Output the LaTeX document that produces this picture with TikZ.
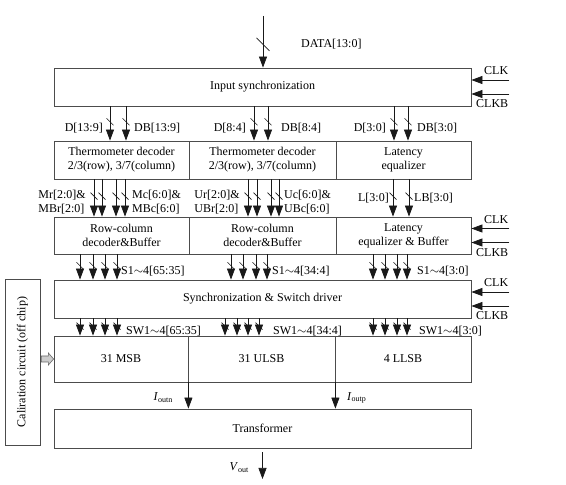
\documentclass[tikz,border=0pt]{standalone}
\usepackage{fontspec}
\setmainfont{Liberation Serif}
\usetikzlibrary{arrows.meta,decorations.markings}

\tikzset{
  blk/.style={draw=black!70, line width=0.8pt, minimum height=38pt, inner sep=1pt,
    align=center, font=\fontsize{12}{14}\selectfont},
  lbl/.style={inner sep=1pt, font=\fontsize{12}{14}\selectfont},
  sig/.style={draw=black!90, line width=0.7pt, -{Triangle[width=8pt,length=11pt]}},
  bus/.style={sig, postaction={decorate}, decoration={markings,
    mark=at position 0.45 with {\draw[-, line width=0.6pt] (-3.5pt,-3.5pt) -- (3.5pt,3.5pt);}}},
  busbig/.style={sig, postaction={decorate}, decoration={markings,
    mark=at position 0.55 with {\draw[-, line width=0.6pt] (-6.5pt,-6.5pt) -- (6.5pt,6.5pt);}}},
  calarr/.style={draw=black!60, fill=black!20, line width=0.6pt},
}

\begin{document}
\begin{tikzpicture}[x=1pt,y=1pt]
  \useasboundingbox (0,0) rectangle (566,485);

  % Blocks
  \node[blk, minimum width=417pt] (in) at (262.5,398) {Input synchronization};

  \node[blk, minimum width=135pt] (thA) at (121.5,325) {Thermometer decoder\\2/3(row), 3/7(column)};
  \node[blk, minimum width=147pt] (thB) at (262.5,325) {Thermometer decoder\\2/3(row), 3/7(column)};
  \node[blk, minimum width=135pt] (lat) at (403.5,325) {Latency\\equalizer};

  \node[blk, minimum width=135pt, minimum height=37pt] (rcA) at (121.5,249.5) {Row-column\\decoder\&Buffer};
  \node[blk, minimum width=147pt, minimum height=37pt] (rcB) at (262.5,249.5) {Row-column\\decoder\&Buffer};
  \node[blk, minimum width=135pt, minimum height=37pt] (latB) at (403.5,249.5) {Latency\\equalizer \& Buffer};

  \node[blk, minimum width=417pt] (sync) at (262.5,186) {Synchronization \& Switch driver};

  \node[blk, minimum width=134pt, minimum height=46pt] (msb) at (121,126) {31 MSB};
  \node[blk, minimum width=147pt, minimum height=46pt] (ulsb) at (261.5,126) {31 ULSB};
  \node[blk, minimum width=136pt, minimum height=46pt] (llsb) at (403,126) {4 LLSB};

  \node[blk, minimum width=417pt, minimum height=39pt] (trans) at (262.5,56.5) {Transformer};

  \node[blk, rotate=90, minimum width=166pt, minimum height=35pt] (cal) at (22.5,123) {Caliration circuit (off chip)};

  % Input bus
  \coordinate (din) at (263,469);
  \draw[busbig] (din) -- (din |- in.north);
  \node[lbl, anchor=west] (data) at (300,441) {DATA[13:0]};

  % Clocks
  \foreach \n in {in,latB,sync} {
    \draw[sig] ([shift={(38pt,7pt)}]\n.east) -- ([yshift=7pt]\n.east);
    \draw[sig] ([shift={(38pt,-7pt)}]\n.east) -- ([yshift=-7pt]\n.east);
    \node[lbl, anchor=east] (clk-\n) at ([shift={(38pt,16pt)}]\n.east) {CLK};
    \node[lbl, anchor=east] (clkb-\n) at ([shift={(38pt,-17pt)}]\n.east) {CLKB};
  }

  % Input sync -> decoders
  \foreach \x/\t in {110/thA,126/thA,254/thB,268/thB,394/lat,408/lat}
    \draw[bus] (\x,0 |- in.south) -- (\x,0 |- \t.north);
  \node[lbl, anchor=east] (d1) at (104,357) {D[13:9]};
  \node[lbl, anchor=west] (db1) at (133,357) {DB[13:9]};
  \node[lbl, anchor=east] (d2) at (247,357) {D[8:4]};
  \node[lbl, anchor=west] (db2) at (280,357) {DB[8:4]};
  \node[lbl, anchor=east] (d3) at (387,357) {D[3:0]};
  \node[lbl, anchor=west] (db3) at (416,357) {DB[3:0]};

  % Decoders -> row-column decoders
  \foreach \x/\s/\t in {94/thA/rcA,102/thA/rcA,116/thA/rcA,125/thA/rcA,
      248/thB/rcB,257/thB/rcB,271/thB/rcB,279/thB/rcB,393/lat/latB,409/lat/latB}
    \draw[bus] (\x,0 |- \s.south) -- (\x,0 |- \t.north);
  \node[lbl, anchor=east, align=left] (mr) at (87,283) {Mr[2:0]\&\\MBr[2:0]};
  \node[lbl, anchor=west, align=left] (mc) at (131,283) {Mc[6:0]\&\\MBc[6:0]};
  \node[lbl, anchor=east, align=left] (ur) at (241,283) {Ur[2:0]\&\\UBr[2:0]};
  \node[lbl, anchor=west, align=left] (uc) at (283,283) {Uc[6:0]\&\\UBc[6:0]};
  \node[lbl, anchor=east] (l) at (390,287) {L[3:0]};
  \node[lbl, anchor=west] (lb) at (413,287) {LB[3:0]};

  % Row-column decoders -> sync
  \foreach \x/\s in {80/rcA,93/rcA,105/rcA,117/rcA,231/rcB,243/rcB,256/rcB,267/rcB,
      373/latB,385/latB,397/latB,407/latB}
    \draw[bus] (\x,0 |- \s.south) -- (\x,0 |- sync.north);
  \node[lbl, anchor=west] (s1) at (120,214) {S1$\sim$4[65:35]};
  \node[lbl, anchor=west] (s2) at (271,214) {S1$\sim$4[34:4]};
  \node[lbl, anchor=west] (s3) at (416,214) {S1$\sim$4[3:0]};

  % Sync -> switches
  \foreach \x/\t in {80/msb,93/msb,105/msb,117/msb,225/ulsb,237/ulsb,248/ulsb,259/ulsb,
      373/llsb,385/llsb,397/llsb,407/llsb}
    \draw[bus] (\x,0 |- sync.south) -- (\x,0 |- \t.north);
  \node[lbl, anchor=west] (sw1) at (125,154) {SW1$\sim$4[65:35]};
  \node[lbl, anchor=west] (sw2) at (272,154) {SW1$\sim$4[34:4]};
  \node[lbl, anchor=west] (sw3) at (418,154) {SW1$\sim$4[3:0]};

  % Outputs
  \draw[sig] (msb.south east) -- (msb.south east |- trans.north);
  \draw[sig] (ulsb.south east) -- (ulsb.south east |- trans.north);
  \node[lbl, anchor=east] (ioutn) at (174,87) {\textit{I}\textsubscript{outn}};
  \node[lbl, anchor=west] (ioutp) at (346,87) {\textit{I}\textsubscript{outp}};

  \coordinate (vo) at (262.5,6);
  \draw[sig] ([yshift=-4pt]trans.south) -- (vo);
  \node[lbl, anchor=east] (vout) at (250,17) {\textit{V}\textsubscript{out}};

  % Calibration input
  \coordinate (ca) at (cal.south |- msb.west);
  \draw[calarr] ([shift={(1pt,3pt)}]ca) -- ++(7,0) -- ++(0,3) -- (msb.west)
    -- ([shift={(8pt,-6pt)}]ca) -- ++(0,3) -- ([shift={(1pt,-3pt)}]ca) -- cycle;
\end{tikzpicture}
\end{document}
